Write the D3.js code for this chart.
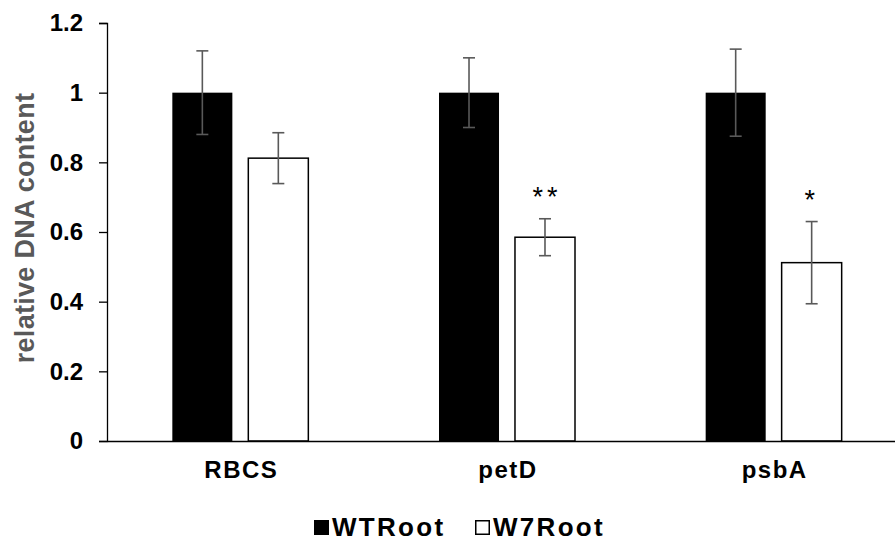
<!DOCTYPE html>
<html>
<head>
<meta charset="utf-8">
<script src="https://cdn.jsdelivr.net/npm/d3@7"></script>
<style>
  html, body { margin: 0; padding: 0; background: #fff; }
  svg { display: block; }
  text { font-family: "Liberation Sans", Arial, sans-serif; font-weight: bold; }
</style>
</head>
<body>
<svg id="chart" width="895" height="543"></svg>
<script>
// Relative DNA content per gene, with standard error bars
const categories = ["RBCS", "petD", "psbA"];
const seriesNames = ["WTRoot", "W7Root"];
const wtValues = [1.0, 1.0, 1.0];
const wtErrors = [0.12, 0.10, 0.125];
const w7Values = [0.812, 0.585, 0.512];
const w7Errors = [0.073, 0.053, 0.118];
const significance = ["", "**", "*"];
const yTicks = [0, 0.2, 0.4, 0.6, 0.8, 1, 1.2];

const svg = d3.select("#chart");

const x = d3.scaleBand().domain(categories).range([107, 907]).padding(0);
const y = d3.scaleLinear().domain([0, 1.2]).range([441, 23]);
const xSub = d3.scaleBand().domain(seriesNames).range([0, 136]).paddingInner(0.21).paddingOuter(0);

const fills = { WTRoot: "#000", W7Root: "#fff" };

const rows = categories.map((c, i) => ({
  cat: c,
  bars: [
    { s: "WTRoot", v: wtValues[i], e: wtErrors[i] },
    { s: "W7Root", v: w7Values[i], e: w7Errors[i], sig: significance[i] }
  ]
}));

// Bars
const groups = svg.append("g").selectAll("g").data(rows).join("g")
  .attr("transform", d => `translate(${x(d.cat) + x.bandwidth() / 2 - 68},0)`);

groups.selectAll("rect").data(d => d.bars).join("rect")
  .attr("x", d => xSub(d.s))
  .attr("y", d => y(d.v))
  .attr("width", xSub.bandwidth())
  .attr("height", d => y(0) - y(d.v))
  .attr("fill", d => fills[d.s])
  .attr("stroke", d => d.s === "W7Root" ? "#000" : "none")
  .attr("stroke-width", 1.5);

// Error bars
const eb = groups.selectAll("g.err").data(d => d.bars).join("g").attr("class", "err")
  .attr("transform", d => `translate(${xSub(d.s) + xSub.bandwidth() / 2},0)`)
  .attr("stroke", "#595959").attr("stroke-width", 1.6);
eb.append("line").attr("x1", 0).attr("x2", 0)
  .attr("y1", d => y(d.v + d.e)).attr("y2", d => y(d.v - d.e));
eb.append("line").attr("x1", -6).attr("x2", 6)
  .attr("y1", d => y(d.v + d.e)).attr("y2", d => y(d.v + d.e));
eb.append("line").attr("x1", -6).attr("x2", 6)
  .attr("y1", d => y(d.v - d.e)).attr("y2", d => y(d.v - d.e));

// Significance marks above the error bars
groups.selectAll("text.sig").data(d => d.bars.filter(b => b.sig)).join("text")
  .attr("class", "sig")
  .attr("x", d => xSub(d.s) + xSub.bandwidth() / 2 + (d.sig.length > 1 ? 2 : 0))
  .attr("y", d => y(d.v + d.e) - 13)
  .attr("text-anchor", "middle")
  .attr("font-size", 27)
  .style("font-weight", "normal")
  .style("letter-spacing", "4px")
  .attr("fill", "#000")
  .text(d => d.sig);

// Y axis
const yAxis = svg.append("g").attr("transform", "translate(107,0)")
  .call(d3.axisLeft(y).tickValues(yTicks).tickFormat(d3.format("~g")).tickSize(8).tickPadding(16));
yAxis.select(".domain").attr("stroke", "#000").attr("stroke-width", 1.3);
yAxis.selectAll(".tick line").attr("stroke", "#000").attr("stroke-width", 1.3);
yAxis.selectAll(".tick text").attr("font-size", 24).attr("fill", "#000")
  .style("font-family", "'Liberation Sans', Arial, sans-serif").style("font-weight", "bold");

// X axis
const xAxis = svg.append("g").attr("transform", "translate(0,441)")
  .call(d3.axisBottom(x).tickSize(0).tickPadding(20));
xAxis.select(".domain").attr("stroke", "#000").attr("stroke-width", 1.3);
xAxis.selectAll(".tick text").attr("font-size", 24).attr("fill", "#000")
  .style("font-family", "'Liberation Sans', Arial, sans-serif").style("font-weight", "bold")
  .style("letter-spacing", "1.5px")
  .attr("transform", "translate(1,0)");

// Y axis title
svg.append("text")
  .attr("transform", "translate(34,228) rotate(-90)")
  .attr("text-anchor", "middle")
  .attr("font-size", 27)
  .style("letter-spacing", "0.3px")
  .attr("fill", "#595959")
  .text("relative DNA content");

// Legend
const legendItems = [
  { s: "WTRoot", x: 314 },
  { s: "W7Root", x: 475 }
];
const lg = svg.append("g").selectAll("g").data(legendItems).join("g")
  .attr("transform", d => `translate(${d.x},520)`);
lg.append("rect").attr("x", 0.75).attr("y", 0.75).attr("width", 13.5).attr("height", 13.5)
  .attr("fill", d => fills[d.s]).attr("stroke", "#000").attr("stroke-width", 1.5);
lg.append("text").attr("x", 18).attr("y", 15.5).attr("font-size", 26).attr("fill", "#000")
  .style("letter-spacing", "2.3px")
  .text(d => d.s);
</script>
</body>
</html>
